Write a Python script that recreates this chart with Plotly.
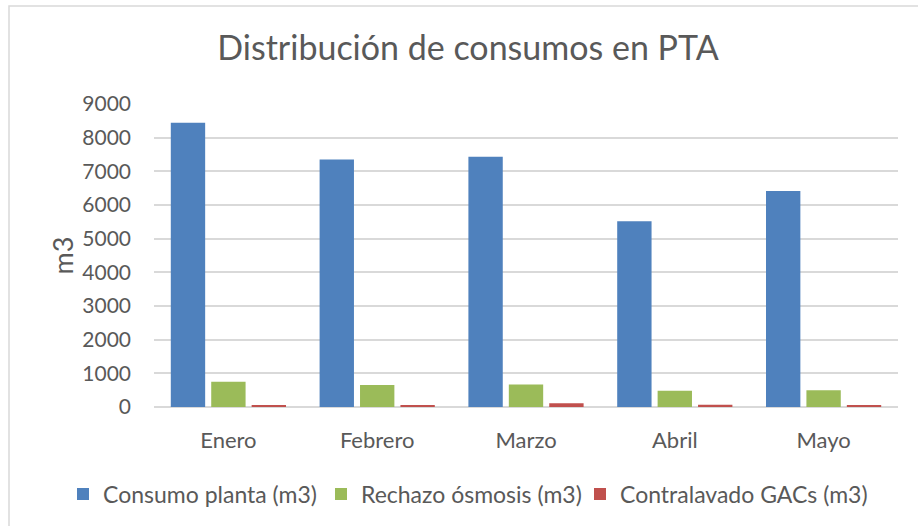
import plotly.graph_objects as go

months = ["Enero", "Febrero", "Marzo", "Abril", "Mayo"]
consumo_planta = [8445, 7355, 7435, 5515, 6415]
rechazo_osmosis = [752, 655, 672, 486, 495]
contralavado_gacs = [59, 40, 108, 69, 50]

y_ticks = [0, 1000, 2000, 3000, 4000, 5000, 6000, 7000, 8000, 9000]

FONT = "Lato"
TXT = "#595959"

# plot area in pixels: x 154-898, y 104-407
L, R, T, B = 154, 20, 104, 119
W, H = 918 - L - R, 526 - T - B

def px_x(p):
    return (p - L) / W

def px_y(p):
    return (526 - B - p) / H

fig = go.Figure()

fig.add_trace(go.Bar(x=months, y=consumo_planta, name="Consumo planta (m3)",
                     marker=dict(color="#4F81BD", line=dict(width=0)), legend="legend"))
fig.add_trace(go.Bar(x=months, y=rechazo_osmosis, name="Rechazo ósmosis (m3)",
                     marker=dict(color="#9BBB59", line=dict(width=0)), legend="legend2"))
fig.add_trace(go.Bar(x=months, y=contralavado_gacs, name="Contralavado GACs (m3)",
                     marker=dict(color="#C0504D", line=dict(width=0)), legend="legend3"))

def leg(left_px):
    return dict(orientation="h", x=px_x(left_px), xanchor="left", y=px_y(494),
                yanchor="middle", font=dict(family=FONT, size=23, color=TXT),
                itemwidth=30, bgcolor="rgba(0,0,0,0)")

fig.update_layout(
    width=918,
    height=526,
    margin=dict(l=L, r=R, t=T, b=B, autoexpand=False),
    template="plotly_white",
    plot_bgcolor="white",
    paper_bgcolor="white",
    font=dict(family=FONT, color=TXT),
    barmode="group",
    bargap=0.185,
    bargroupgap=0.15,
    title=dict(text="Distribución de consumos en PTA", x=468 / 918, xref="container",
               xanchor="center", y=1 - 48 / 526, yref="container", yanchor="middle",
               font=dict(family=FONT, size=34, color=TXT)),
    xaxis=dict(showgrid=False, showline=False, zeroline=False, ticks="", automargin=False,
               tickfont=dict(family=FONT, size=22, color=TXT), ticklabelstandoff=18),
    yaxis=dict(range=[0, 9000], tickvals=y_ticks, showgrid=True, gridcolor="#D9D9D9",
               gridwidth=1.5, zeroline=True, zerolinecolor="#D9D9D9", zerolinewidth=2,
               showline=False, ticks="", automargin=False,
               tickfont=dict(family=FONT, size=21, color=TXT), ticklabelstandoff=22),
    legend=leg(63),
    legend2=leg(321),
    legend3=leg(580),
    showlegend=True,
)

fig.add_annotation(text="m3", x=px_x(62), y=0.5, xref="paper", yref="paper",
                   textangle=-90, showarrow=False, xanchor="center", yanchor="middle",
                   font=dict(family=FONT, size=27, color=TXT))

# chart-area border (right and bottom edges fall outside the picture)
fig.add_shape(type="rect", xref="paper", yref="paper",
              x0=px_x(9), x1=px_x(930), y0=px_y(535), y1=px_y(6),
              line=dict(color="#D9D9D9", width=1.5), fillcolor="rgba(0,0,0,0)", layer="below")

fig.write_html("out.html", config={"displayModeBar": False},
               post_script="document.body.style.margin='0';")
